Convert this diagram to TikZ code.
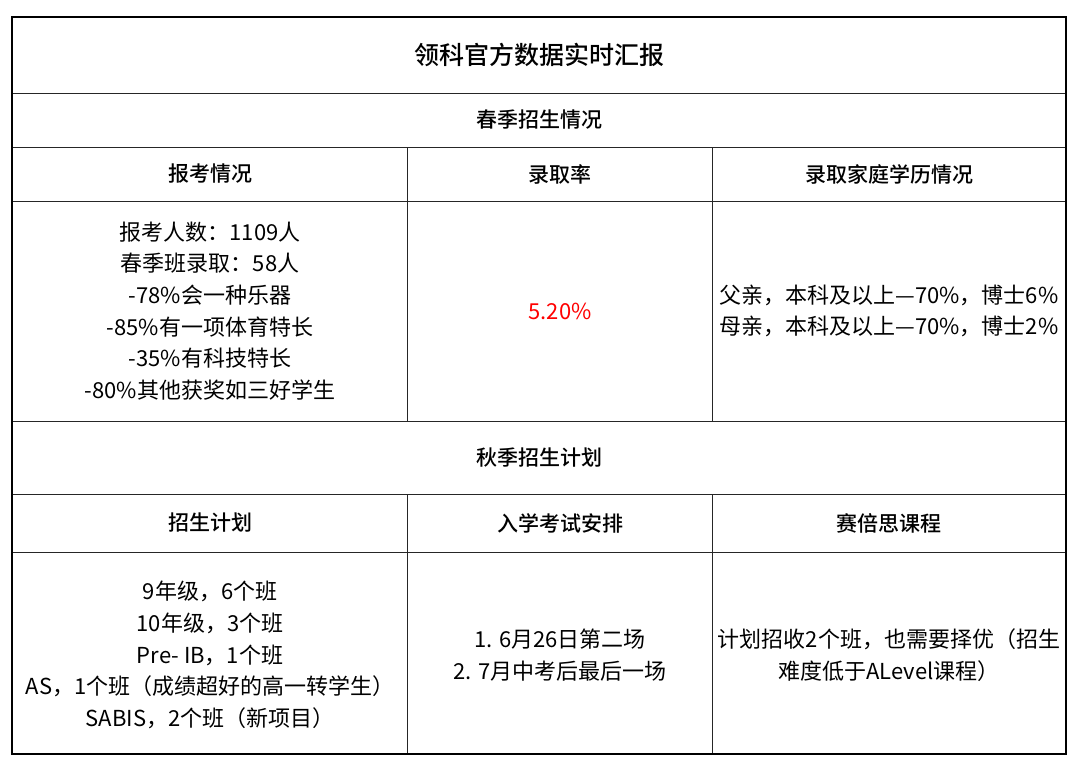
\documentclass[tikz,border=0pt]{standalone}
\usepackage{fontspec}
\setmainfont{Noto Sans CJK SC}
\newfontfamily\headfont{Noto Sans CJK SC Medium}
\tikzset{
  cell/.style={align=center,font=\fontsize{11}{15.8}\selectfont},
  head/.style={align=center,font=\headfont\fontsize{10.5}{12}\selectfont},
  grid/.style={line width=0.5pt,black!85},
}
\begin{document}
\begin{tikzpicture}[x=0.5pt,y=-0.5pt]
%
\useasboundingbox (0,0) rectangle (1080,773);
%
\coordinate (tl) at (12,17);
\coordinate (br) at (1066,754);
\foreach \y in {93,147,201,421,494,552}
  \draw[grid] (12,\y) -- (1066,\y);
\foreach \x in {407,712}{
  \draw[grid] (\x,147) -- (\x,421);
  \draw[grid] (\x,494) -- (\x,754);
}
\draw[line width=1pt] (tl) rectangle (br);
%
\node[head,font=\headfont\fontsize{12.5}{14}\selectfont] (title) at (539,55) {领科官方数据实时汇报};
\node[head] (spring) at (539,120) {春季招生情况};
\node[head] (h1) at (210,174) {报考情况};
\node[head] (h2) at (560,174) {录取率};
\node[head] (h3) at (889,174) {录取家庭学历情况};
\node[cell] (b1) at (210,311) {报考人数：1109人\\春季班录取：58人\\-78\%会一种乐器\\-85\%有一项体育特长\\-35\%有科技特长\\-80\%其他获奖如三好学生};
\node[cell,text=red] (b2) at (560,311) {5.20\%};
\node[cell] (b3) at (889,311) {父亲，本科及以上—70\%，博士6\%\\母亲，本科及以上—70\%，博士2\%};
%
\node[head] (autumn) at (539,458) {秋季招生计划};
\node[head] (k1) at (210,523) {招生计划};
\node[head] (k2) at (560,523) {入学考试安排};
\node[head] (k3) at (889,523) {赛倍思课程};
\node[cell] (c1) at (210,655) {9年级，6个班\\10年级，3个班\\Pre- IB，1个班\\AS，1个班（成绩超好的高一转学生）\\SABIS，2个班（新项目）};
\node[cell] (c2) at (560,655) {1. 6月26日第二场\\2. 7月中考后最后一场};
\node[cell] (c3) at (889,655) {计划招收2个班，也需要择优（招生\\难度低于ALevel课程）};
%
\end{tikzpicture}
\end{document}
